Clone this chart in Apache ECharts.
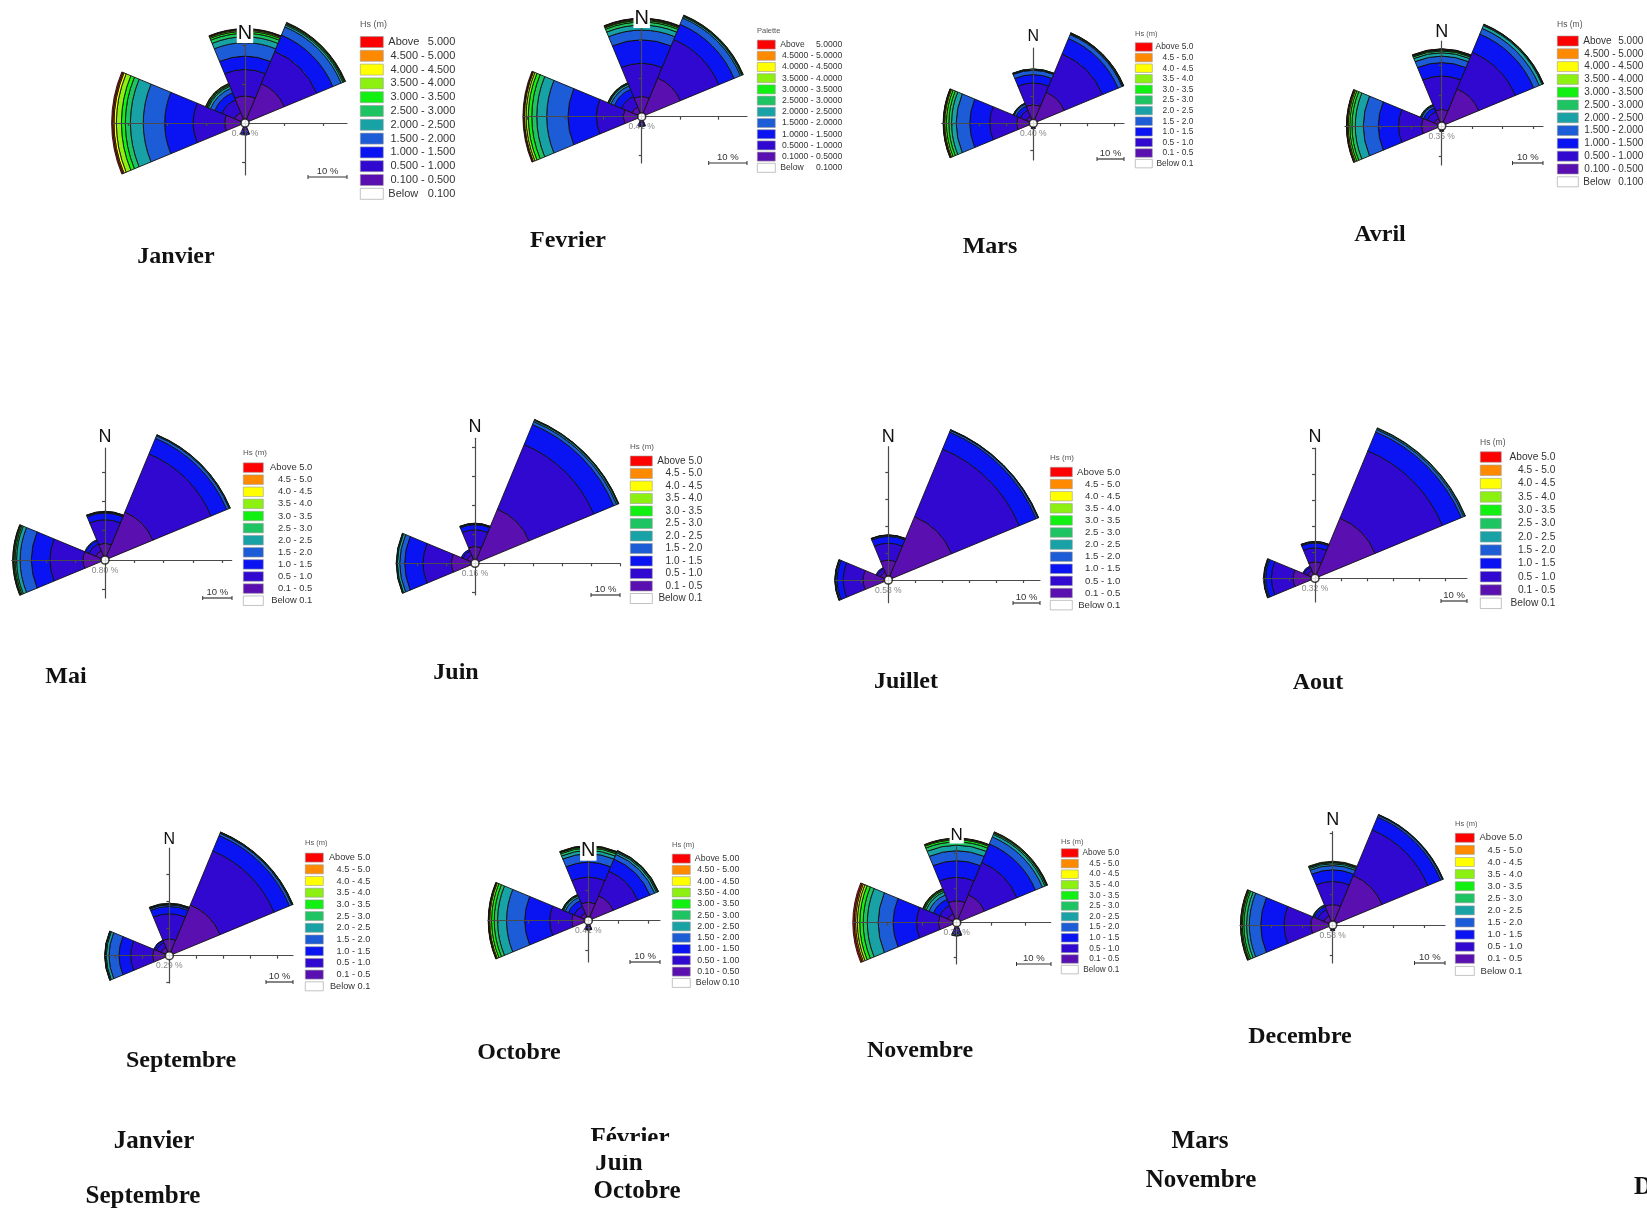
<!DOCTYPE html>
<html><head><meta charset="utf-8">
<script src="https://cdn.jsdelivr.net/npm/echarts@6/dist/echarts.min.js"></script>
<style>html,body{margin:0;padding:0;background:#fff}#c{width:1647px;height:1210px}</style>
</head><body><div id="c"></div><script>
// ---------- DATA ----------
const directions = ['N','NE','E','SE','S','SW','W','NW'];
// class bounds of significant wave height Hs (m)
const hsBounds = [0.1,0.5,1.0,1.5,2.0,2.5,3.0,3.5,4.0,4.5,5.0];
const monthTitles = ['Janvier','Fevrier','Mars','Avril','Mai','Juin','Juillet','Aout','Septembre','Octobre','Novembre','Decembre'];
const legendHeaders = ['Hs (m)','Palette','Hs (m)','Hs (m)','Hs (m)','Hs (m)','Hs (m)','Hs (m)','Hs (m)','Hs (m)','Hs (m)','Hs (m)'];
const labelDecimals = [3,4,1,3,1,1,1,1,1,2,1,1];
const calmLabels = ['0.43 %','0.41 %','0.40 %','0.35 %','0.80 %','0.16 %','0.58 %','0.32 %','0.29 %','0.41 %','0.36 %','0.58 %'];
const bottomTexts = ['Janvier','Février','Juin','Mars','Septembre','Octobre','Novembre','D'];

// % of occurrence: rows = directions (N..NW), columns = Hs classes 0.1-0.5 ... Above 5.0
const janvier = [
 [6.0,6.8,3.4,3.5,1.5,0.9,0.5,0.3,0.2,0.1,0.1],
 [10.0,9.0,4.5,2.3,0.5,0.3,0.2,0.1,0.1,0,0],
 [0,0,0,0,0,0,0,0,0,0,0],
 [0,0,0,0,0,0,0,0,0,0,0],
 [1.0,0.8,0.4,0,0,0,0,0,0,0,0],
 [0,0,0,0,0,0,0,0,0,0,0],
 [4.3,8.1,7.3,5.5,3.3,1.3,1.0,1.3,0.6,0.3,0.3],
 [2.0,3.5,2.0,1.2,0.6,0.3,0.2,0.2,0.1,0,0]];
const fevrier = [
 [4.3,8.7,6.1,2.6,1.3,0.8,0.4,0.2,0.2,0.1,0.1],
 [10.0,10.9,4.3,1.8,0.4,0.2,0.1,0.1,0,0,0],
 [0,0,0,0,0,0,0,0,0,0,0],
 [0,0,0,0,0,0,0,0,0,0,0],
 [0.8,0.6,0.3,0,0,0,0,0,0,0,0],
 [0,0,0,0,0,0,0,0,0,0,0],
 [3.9,7.0,7.4,5.6,2.6,1.3,0.9,0.6,0.4,0.2,0.2],
 [1.8,3.0,2.0,1.0,0.5,0.2,0.1,0.1,0,0,0]];
const mars = [
 [5.6,8.0,3.1,1.6,0.3,0.1,0.1,0,0,0,0],
 [11.1,15.4,6.2,1.6,0.3,0.2,0.1,0.1,0,0,0],
 [0,0,0,0,0,0,0,0,0,0,0],
 [0,0,0,0,0,0,0,0,0,0,0],
 [0.5,0.3,0,0,0,0,0,0,0,0,0],
 [0,0,0,0,0,0,0,0,0,0,0],
 [4.9,9.9,7.4,5.0,1.8,1.0,0.9,0.6,0.3,0.2,0.1],
 [1.5,2.5,1.6,0.8,0.3,0.1,0,0,0,0,0]];
const avril = [
 [4.3,10.9,4.4,2.1,1.1,0.6,0.3,0.2,0.1,0.1,0],
 [12.0,13.0,6.5,2.0,1.0,0.3,0.1,0.1,0,0,0],
 [0,0,0,0,0,0,0,0,0,0,0],
 [0,0,0,0,0,0,0,0,0,0,0],
 [0.4,0.3,0,0,0,0,0,0,0,0,0],
 [0,0,0,0,0,0,0,0,0,0,0],
 [5.4,7.6,6.6,4.9,2.7,1.1,0.7,0.5,0.3,0.2,0.1],
 [1.5,2.5,1.3,0.7,0.3,0.2,0,0,0,0,0]];
const mai = [
 [4.5,8.0,2.3,0.3,0.2,0.1,0,0,0,0,0],
 [16.5,21.5,5.8,0.9,0.3,0.1,0,0,0,0,0],
 [0,0,0,0,0,0,0,0,0,0,0],
 [0,0,0,0,0,0,0,0,0,0,0],
 [0,0,0,0,0,0,0,0,0,0,0],
 [0,0,0,0,0,0,0,0,0,0,0],
 [6.3,11.3,6.3,3.9,1.2,0.5,0.4,0.2,0.1,0.1,0],
 [2.2,2.6,1.2,0.3,0,0,0,0,0,0,0]];
const juin = [
 [4.6,5.7,1.8,0.3,0.1,0.1,0,0,0,0,0],
 [19.0,24.1,7.5,1.1,0.5,0.2,0.1,0,0,0,0],
 [0,0,0,0,0,0,0,0,0,0,0],
 [0,0,0,0,0,0,0,0,0,0,0],
 [0,0,0,0,0,0,0,0,0,0,0],
 [0,0,0,0,0,0,0,0,0,0,0],
 [6.9,9.8,6.3,1.7,0.8,0.3,0.1,0,0,0,0],
 [1.8,1.6,0.6,0,0,0,0,0,0,0,0]];
const juillet = [
 [6.0,6.3,2.5,0.4,0.1,0.1,0,0,0,0,0],
 [24.1,27.1,6.8,0.7,0.2,0.1,0,0,0,0,0],
 [0,0,0,0,0,0,0,0,0,0,0],
 [0,0,0,0,0,0,0,0,0,0,0],
 [0,0,0,0,0,0,0,0,0,0,0],
 [0,0,0,0,0,0,0,0,0,0,0],
 [8.0,7.4,2.3,0.5,0.2,0.1,0,0,0,0,0],
 [1.8,1.4,0.5,0,0,0,0,0,0,0,0]];
const aout = [
 [5.0,5.3,1.9,0.4,0.1,0.1,0,0,0,0,0],
 [23.7,28.0,7.9,1.0,0.5,0.2,0,0,0,0,0],
 [0,0,0,0,0,0,0,0,0,0,0],
 [0,0,0,0,0,0,0,0,0,0,0],
 [0,0,0,0,0,0,0,0,0,0,0],
 [0,0,0,0,0,0,0,0,0,0,0],
 [7.0,8.4,2.2,0.5,0.2,0.1,0,0,0,0,0],
 [1.8,1.5,0.5,0,0,0,0,0,0,0,0]];
const septembre = [
 [4.9,9.3,2.7,0.6,0.3,0.2,0.1,0,0,0,0],
 [19.1,21.6,6.2,0.9,0.3,0.1,0.1,0,0,0,0],
 [0,0,0,0,0,0,0,0,0,0,0],
 [0,0,0,0,0,0,0,0,0,0,0],
 [0,0,0,0,0,0,0,0,0,0,0],
 [0,0,0,0,0,0,0,0,0,0,0],
 [4.9,8.1,4.3,3.7,1.0,0.4,0.1,0.1,0,0,0],
 [2.0,2.0,0.8,0.2,0,0,0,0,0,0,0]];
const octobre = [
 [5.0,8.3,5.0,2.8,1.1,0.8,0.4,0.2,0.1,0.1,0],
 [7.8,8.9,4.4,1.7,0.7,0.4,0.2,0.1,0,0,0],
 [0,0,0,0,0,0,0,0,0,0,0],
 [0,0,0,0,0,0,0,0,0,0,0],
 [0.8,0.7,0.4,0.1,0,0,0,0,0,0,0],
 [0,0,0,0,0,0,0,0,0,0,0],
 [4.4,7.3,8.3,6.1,3.0,1.1,0.9,0.6,0.3,0.1,0.1],
 [1.5,2.5,2.0,1.2,0.6,0.3,0.1,0.1,0,0,0]];
const novembre = [
 [5.3,6.8,4.8,2.9,1.6,1.0,0.6,0.3,0.1,0.1,0],
 [7.7,10.2,5.8,2.2,0.8,0.4,0.2,0.1,0.1,0,0],
 [0,0,0,0,0,0,0,0,0,0,0],
 [0,0,0,0,0,0,0,0,0,0,0],
 [0.9,0.9,0.6,0.3,0.2,0,0,0,0,0,0],
 [0,0,0,0,0,0,0,0,0,0,0],
 [4.3,6.3,6.8,4.3,3.2,1.2,1.0,0.7,0.5,0.4,0.4],
 [1.8,2.5,2.0,1.4,0.9,0.5,0.3,0.2,0.1,0,0]];
const decembre = [
 [5.5,7.6,3.8,1.4,0.6,0.4,0.2,0.2,0,0,0],
 [16.4,16.2,4.6,0.6,0.2,0.1,0,0,0,0,0],
 [0,0,0,0,0,0,0,0,0,0,0],
 [0,0,0,0,0,0,0,0,0,0,0],
 [0.5,0.3,0,0,0,0,0,0,0,0,0],
 [0,0,0,0,0,0,0,0,0,0,0],
 [6.0,8.8,7.6,3.8,0.9,0.9,0.5,0.3,0.2,0.1,0],
 [2.0,2.3,1.1,0.4,0.2,0,0,0,0,0,0]];
const panelsData = [janvier,fevrier,mars,avril,mai,juin,juillet,aout,septembre,octobre,novembre,decembre];

// ---------- STYLE / LAYOUT ----------
const hsColors = ['#5a10b0','#3008d0','#0a14f2','#1c5cd6','#18a2a6','#1ec462','#12f012','#8cf010','#ffff00','#ff8a00','#ff0000'];
const layout = [
 {cx:245,cy:123,s:3.9,L:132,R:102,T:96,B:52,nSize:20,nY:33,lx:360,hY:25,hSize:9,sw:23,sh:11,sp:13.2,ly:41.7,lEnd:455,lFont:11,align:'justify',tx:176,ty:257,sbx:347,sby:177},
 {cx:641.7,cy:116.7,s:3.83,L:118.7,R:105.3,T:103.7,B:46.3,nSize:20,nY:18,lx:757,hY:31,hSize:7.5,sw:18,sh:9,sp:10.6,ly:44.3,lEnd:842,lFont:8.6,align:'justify',tx:568,ty:241,sbx:747,sby:163},
 {cx:1033.3,cy:123.3,s:2.7,L:91.6,R:90.7,T:75.3,B:36.7,nSize:16,nY:37,lx:1135,hY:34,hSize:7.5,sw:17,sh:8.5,sp:10,ly:46.7,lEnd:1193,lFont:8.4,align:'right',tx:990,ty:247,sbx:1124,sby:159},
 {cx:1441.7,cy:126,s:3.05,L:96.7,R:101.3,T:89.3,B:39,nSize:18,nY:31.7,lx:1557,hY:25,hSize:8.5,sw:21,sh:10,sp:12.2,ly:40.7,lEnd:1643,lFont:10,align:'justify',tx:1380,ty:235,sbx:1543,sby:163},
 {cx:105,cy:560,s:2.93,L:93.3,R:126.7,T:112,B:38,nSize:18,nY:436.7,lx:243,hY:453,hSize:8,sw:20,sh:9.5,sp:11.5,ly:467.3,lEnd:312,lFont:9.4,align:'right',tx:66,ty:677,sbx:232,sby:598},
 {cx:475,cy:563.3,s:2.9,L:77,R:145,T:125,B:31.7,nSize:18,nY:426.7,lx:630,hY:447,hSize:8,sw:22,sh:10,sp:11.9,ly:460.7,lEnd:702,lFont:10,align:'right',tx:456,ty:673,sbx:620,sby:595},
 {cx:888.3,cy:580,s:2.7,L:53.3,R:151.7,T:133.3,B:22.7,nSize:18,nY:436.7,lx:1050,hY:458,hSize:8,sw:22,sh:9.5,sp:11.5,ly:471.7,lEnd:1120,lFont:9.6,align:'right',tx:906,ty:682,sbx:1040,sby:603},
 {cx:1315,cy:578.3,s:2.6,L:52,R:152,T:130.3,B:23.7,nSize:18,nY:436.7,lx:1480,hY:443,hSize:8.5,sw:21,sh:10.5,sp:12.7,ly:456.7,lEnd:1555,lFont:10.2,align:'right',tx:1318,ty:683,sbx:1467,sby:601},
 {cx:169.3,cy:955.7,s:2.7,L:64.3,R:123.7,T:107.7,B:27.3,nSize:16,nY:839.3,lx:305,hY:843,hSize:7.5,sw:18,sh:9,sp:11.1,ly:857.3,lEnd:370,lFont:9.2,align:'right',tx:181,ty:1061,sbx:293,sby:982},
 {cx:588.3,cy:920.7,s:3.0,L:100.3,R:71.7,T:73.7,B:41.3,nSize:20,nY:850.7,lx:672,hY:845,hSize:7.5,sw:18,sh:9,sp:10.7,ly:858.3,lEnd:739,lFont:8.8,align:'right',tx:519,ty:1053,sbx:660,sby:962},
 {cx:956.7,cy:922.7,s:3.45,L:103.4,R:94,T:76,B:41.3,nSize:17,nY:835,lx:1061,hY:842,hSize:7.5,sw:17,sh:8.5,sp:10,ly:852.7,lEnd:1119,lFont:8.2,align:'right',tx:920,ty:1051,sbx:1051,sby:964},
 {cx:1332.7,cy:925,s:3.05,L:92.7,R:112.3,T:93.3,B:38,nSize:18,nY:820,lx:1455,hY:824,hSize:7.5,sw:19,sh:9,sp:11.1,ly:837.3,lEnd:1522,lFont:9.5,align:'right',tx:1300,ty:1037,sbx:1445,sby:963}
];
const bottomLayout = [[154,1142],[630,1139],[619,1164],[1200,1142],[143,1197],[637,1192],[1201,1181],[1634,1188]];
const SANS = '"Liberation Sans", Arial, sans-serif';
const SERIF = '"Liberation Serif", "Times New Roman", serif';
const R0 = 3.5;

// ---------- BUILD ----------
function classLabels(d){
  const out = [];
  for (let k = 0; k < 10; k++) out.push(hsBounds[k].toFixed(d) + ' - ' + hsBounds[k+1].toFixed(d));
  out.push('Above ' + hsBounds[10].toFixed(d));
  return out;
}
function tickVals(min, max){
  const v = [];
  for (let t = Math.ceil(min/10)*10; t <= max; t += 10) if (t !== 0) v.push(t);
  return v;
}
const option = {animation:false, backgroundColor:'#fff', polar:[], angleAxis:[], radiusAxis:[], grid:[], xAxis:[], yAxis:[], legend:[], series:[], graphic:[]};
const axisStyle = {color:'#4a4a4a', width:1.2};

panelsData.forEach((rows, i) => {
  const g = layout[i];
  const labels = classLabels(labelDecimals[i]);
  const belowName = 'Below ' + hsBounds[0].toFixed(labelDecimals[i]);
  const sums = rows.map(r => r.reduce((a,b)=>a+b,0));
  const maxSum = Math.max(...sums);
  option.polar.push({center:[g.cx, g.cy], radius:[R0, R0 + maxSum*g.s]});
  option.angleAxis.push({polarIndex:i, type:'category', data:directions, startAngle:112.5, clockwise:true, boundaryGap:true, show:false});
  option.radiusAxis.push({polarIndex:i, type:'value', min:0, max:maxSum, show:false});
  labels.forEach((name, k) => {
    option.series.push({
      name, type:'bar', coordinateSystem:'polar', polarIndex:i, stack:'rose'+i,
      barCategoryGap:'0%', barGap:'0%', silent:true,
      data: rows.map(r => r[k] > 0 ? r[k] : '-'),
      itemStyle:{color:hsColors[k], borderColor:'#111', borderWidth:0.9},
      emphasis:{disabled:true}, z:2
    });
  });
  option.series.push({name:belowName, type:'bar', coordinateSystem:'polar', polarIndex:i, stack:'rose'+i,
    barCategoryGap:'0%', data: directions.map(()=>'-'), itemStyle:{color:'#ffffff'}, silent:true});

  // cross axes (same scale as the rose)
  const xmin = -g.L/g.s, xmax = g.R/g.s, ymin = -g.B/g.s, ymax = g.T/g.s;
  option.grid.push({left:g.cx-g.L, top:g.cy-g.T, width:g.L+g.R, height:g.T+g.B, containLabel:false});
  option.xAxis.push({gridIndex:i, type:'value', min:xmin, max:xmax, z:5,
    axisLine:{onZero:true, lineStyle:axisStyle}, axisLabel:{show:false}, splitLine:{show:false},
    axisTick:{show:true, length:3, customValues:tickVals(xmin,xmax), lineStyle:axisStyle}});
  option.yAxis.push({gridIndex:i, type:'value', min:ymin, max:ymax, z:5,
    axisLine:{onZero:true, lineStyle:axisStyle}, axisLabel:{show:false}, splitLine:{show:false},
    axisTick:{show:true, length:3, customValues:tickVals(ymin,ymax), lineStyle:axisStyle}});
  option.series.push({name:'calme', type:'scatter', xAxisIndex:i, yAxisIndex:i, data:[[0,0]], z:6, silent:true,
    symbol:'circle', symbolSize:2*R0+1, itemStyle:{color:'#fff', borderColor:'#111', borderWidth:1.6},
    label:{show:true, formatter:calmLabels[i], position:'bottom', distance:1, fontSize:8.5, color:'#666', fontFamily:SANS}});

  // legend
  const legendNames = labels.slice().reverse().concat([belowName]);
  const textStart = g.lx + g.sw + 5;
  const tw = g.lEnd - textStart;
  const base = {fontSize:g.lFont, lineHeight:g.sh, fontFamily:SANS, color:'#333'};
  const rich = {
    l:Object.assign({width:tw*0.45, align:'left'}, base),
    r:Object.assign({width:tw*0.55, align:'right'}, base),
    f:Object.assign({width:tw, align:'right'}, base)
  };
  option.legend.push({
    left:g.lx, top:g.ly - g.sh/2, orient:'vertical', padding:0, icon:'rect',
    itemWidth:g.sw, itemHeight:g.sh, itemGap:g.sp - g.sh, selectedMode:false,
    data:legendNames, itemStyle:{borderColor:'#9a9a9a', borderWidth:0.6},
    textStyle:Object.assign({rich}, base),
    formatter: n => {
      if (g.align === 'justify' && (n.startsWith('Above') || n.startsWith('Below'))) {
        const p = n.lastIndexOf(' ');
        return '{l|' + n.slice(0,p) + '}{r|' + n.slice(p+1) + '}';
      }
      return '{f|' + n + '}';
    }
  });

  // texts & scale bar
  const gr = option.graphic;
  gr.push({type:'text', z:10, x:g.lx, y:g.hY, style:{text:legendHeaders[i], font:g.hSize+'px '+SANS, fill:'#555', align:'left', verticalAlign:'middle', textAlign:'left', textVerticalAlign:'middle'}});
  gr.push({type:'text', z:10, x:g.cx, y:g.nY, style:{text:'N', font:g.nSize+'px '+SANS, fill:'#111', align:'center', verticalAlign:'middle', textAlign:'center', textVerticalAlign:'middle', backgroundColor:'#fff', padding:[0,1]}});
  gr.push({type:'text', z:10, x:g.tx, y:g.ty, style:{text:monthTitles[i], font:'bold 24px '+SERIF, fill:'#111', align:'center', verticalAlign:'middle', textAlign:'center', textVerticalAlign:'middle'}});
  const len = 10*g.s;
  gr.push({type:'line', z:10, shape:{x1:g.sbx-len, y1:g.sby, x2:g.sbx, y2:g.sby}, style:{stroke:'#333', lineWidth:1.2}});
  gr.push({type:'line', z:10, shape:{x1:g.sbx-len, y1:g.sby-2, x2:g.sbx-len, y2:g.sby+2}, style:{stroke:'#333', lineWidth:1}});
  gr.push({type:'line', z:10, shape:{x1:g.sbx, y1:g.sby-2, x2:g.sbx, y2:g.sby+2}, style:{stroke:'#333', lineWidth:1}});
  gr.push({type:'text', z:10, x:g.sbx-len/2, y:g.sby-6, style:{text:'10 %', font:'9.5px '+SANS, fill:'#333', align:'center', verticalAlign:'middle', textAlign:'center', textVerticalAlign:'middle'}});
});

// bottom stray captions
bottomTexts.forEach((t, j) => {
  const [x, y] = bottomLayout[j];
  const last = j === bottomTexts.length - 1;
  option.graphic.push({type:'text', z:10, x, y, style:{text:t, font:'bold 25px '+SERIF, fill:'#111',
    align: last ? 'left' : 'center', textAlign: last ? 'left' : 'center', verticalAlign:'middle', textVerticalAlign:'middle'}});
});
option.graphic.push({type:'rect', z:11, shape:{x:570, y:1141, width:120, height:14}, style:{fill:'#fff'}});

const chart = echarts.init(document.getElementById('c'), null, {renderer:'canvas'});
chart.setOption(option);
</script></body></html>
